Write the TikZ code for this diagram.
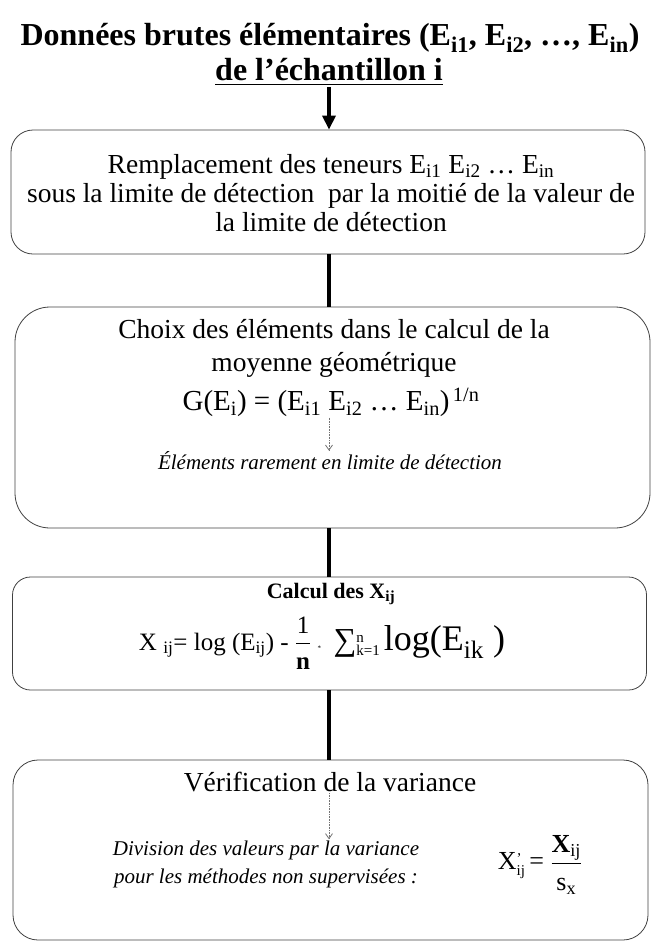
\documentclass[tikz,border=0pt]{standalone}
\usepackage{amsmath}
\usepackage{fontspec}
\setmainfont{Liberation Serif}
\usetikzlibrary{arrows.meta,positioning}

\newcommand{\lo}[1]{\textsubscript{#1}}
\newcommand{\hi}[1]{\textsuperscript{#1}}
\newcommand{\duo}[2]{{\fontsize{15}{13}\selectfont\begin{tabular}[c]{@{}l@{}}#1\\[-2pt]#2\end{tabular}}}

\begin{document}
\begin{tikzpicture}[x=1pt,y=-1pt,>=Latex,
  box/.style={draw=black!75,line width=0.8pt,minimum width=634pt,inner sep=0pt},
  txt/.style={align=center,font=\fontsize{27.5}{29}\selectfont,inner sep=1pt},
  note/.style={align=center,font=\fontsize{21}{28}\selectfont\itshape,inner sep=1pt},
  titletxt/.style={align=center,font=\fontsize{32}{35}\selectfont\bfseries,inner sep=1pt},
  link/.style={line width=4.5pt},
  hint/.style={draw=black!55,densely dotted,line width=0.6pt,-{Straight Barb[length=5pt,width=7pt,line width=0.8pt]}}]
\useasboundingbox (0,0) rectangle (657,943);
% title
\node[titletxt] (t1) at (330,38) {Données brutes élémentaires (E\lo{i1}, E\lo{i2}, …, E\lo{in})};
\node[titletxt] (t2) at (329,72) {\underline{de l'échantillon i}};
% boxes
\node[box,rounded corners=22pt,minimum height=124pt] (b1) at (328,192) {};
\node[box,rounded corners=35pt,minimum width=635pt,minimum height=221pt] (b2) at (332.5,417.5) {};
\node[box,rounded corners=18pt,minimum height=113pt] (b3) at (329.5,633.5) {};
\node[box,rounded corners=25pt,minimum width=635pt,minimum height=180pt] (b4) at (330.5,850) {};
% step 1
\node[txt] (r1) at (331,193) {Remplacement des teneurs E\lo{i1} E\lo{i2} … E\lo{in}\\sous la limite de détection~ par la moitié de la valeur de\\la limite de détection};
% step 2
\node[txt,font=\fontsize{27.5}{33}\selectfont] (c1) at (334,348) {Choix des éléments dans le calcul de la\\moyenne géométrique};
\node[txt,font=\fontsize{29}{32}\selectfont] (g1) at (331,402) {G(E\lo{i}) = (E\lo{i1} E\lo{i2} … E\lo{in})\hi{\,1/n}};
\node[note] (c2) at (330,461) {Éléments rarement en limite de détection};
% step 3
\node[txt,font=\fontsize{22}{29}\selectfont\bfseries] (x1) at (331,594) {Calcul des X\lo{ij}};
\node[txt,font=\fontsize{25}{29}\selectfont] (x2) at (322,643) {X \lo{ij}= log (E\lo{ij}) - $\dfrac{\text{1}\rule[-6pt]{0pt}{6pt}}{\rule{0pt}{22pt}\textbf{n}}$ {\scriptsize *}~ {\fontsize{32}{34}\selectfont ∑}\duo{n}{k=1}\,{\fontsize{36}{38}\selectfont log(E\lo{ik} )}};
% step 4
\node[txt] (v1) at (330,782) {Vérification de la variance};
\node[note] (v2) at (266,864) {Division des valeurs par la variance\\pour les méthodes non supervisées :};
\node[txt,font=\fontsize{26}{29}\selectfont] (v3) at (540,865) {X\duo{’}{ij}\,= $\dfrac{\text{\textbf{X}\lo{ij}}\rule[-6pt]{0pt}{6pt}}{\rule{0pt}{24pt}\text{s\lo{x}}}$};
% connectors
\draw[link,-{Triangle[length=14pt,width=13pt]}] (t2.south) -- (t2.south |- b1.north);
\draw[link] (b1.south -| t2.south) -- (b2.north -| t2.south);
\draw[link] (b2.south -| t2.south) -- (b3.north -| t2.south);
\draw[link] (b3.south -| t2.south) -- (b4.north -| t2.south);
\draw[hint] (g1.south -| t2.south) -- (c2.north -| t2.south);
\draw[hint] (v1.south -| t2.south) -- (v2.north -| t2.south);
\end{tikzpicture}
\end{document}
